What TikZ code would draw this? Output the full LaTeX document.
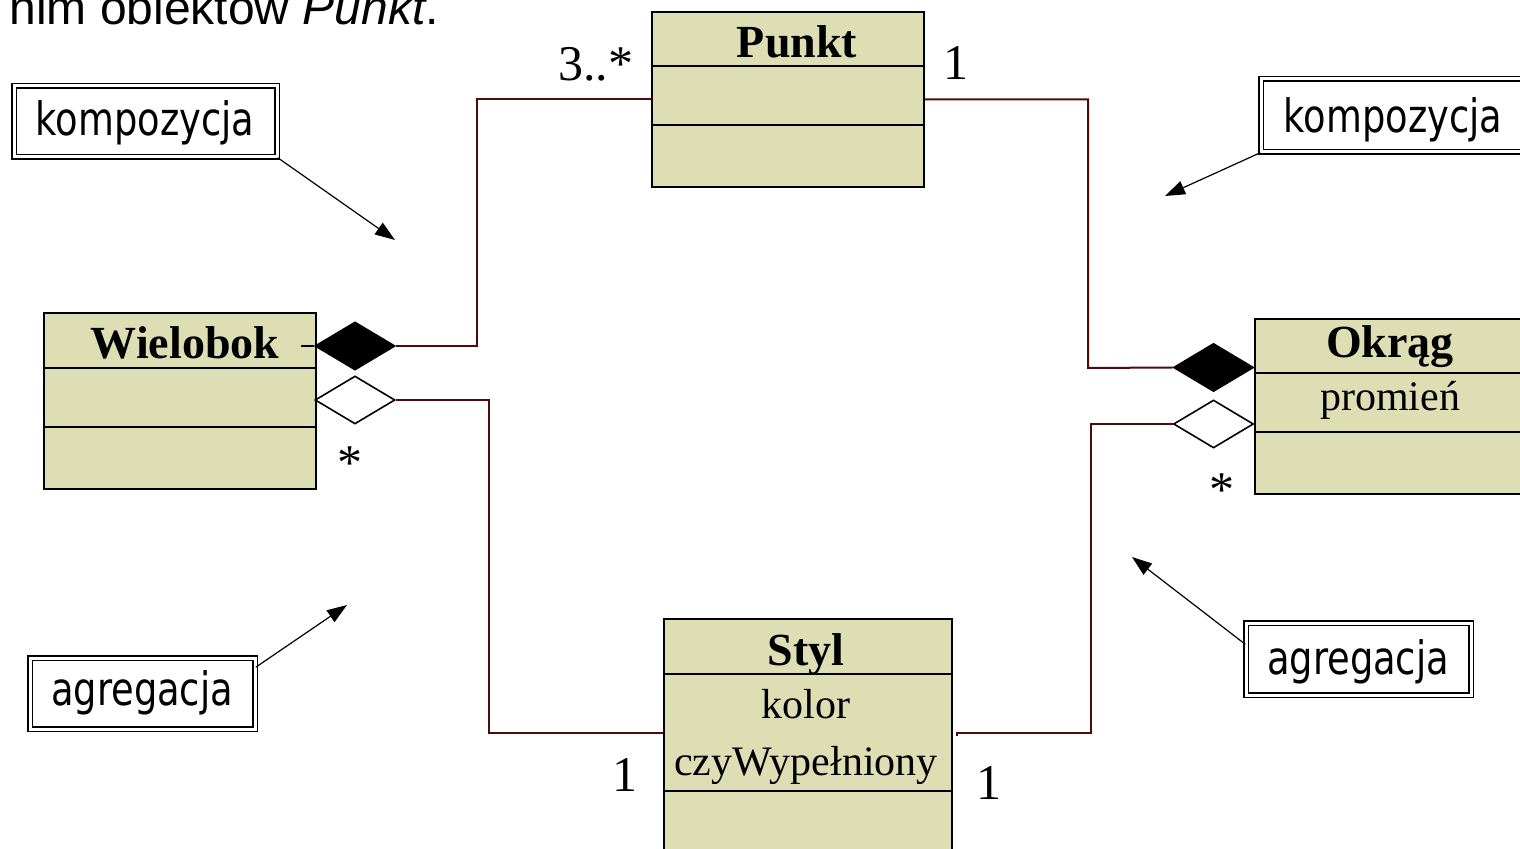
\documentclass[tikz,border=0pt]{standalone}
\usepackage{fontspec}
\setmainfont{Liberation Serif}
\newfontfamily\headfont{Liberation Sans}
\newfontfamily\notefont[FakeStretch=0.8]{DejaVu Sans}
\usetikzlibrary{shapes.geometric,arrows.meta,calc}

\definecolor{classfill}{RGB}{222,222,180}
\definecolor{linkred}{RGB}{80,10,10}

\begin{document}
\begin{tikzpicture}[x=0.5pt,y=-0.5pt,
  classbox/.style={draw=black, line width=1pt, fill=classfill, rectangle, anchor=north west, inner sep=0pt},
  divider/.style={draw=black, line width=1pt},
  ctitle/.style={font=\fontsize{23}{27}\selectfont\bfseries, anchor=base, inner sep=0pt},
  cattr/.style={font=\fontsize{21}{25}\selectfont, anchor=base, inner sep=0pt},
  mult/.style={font=\fontsize{25}{30}\selectfont, inner sep=0pt},
  fulldiamond/.style={diamond, draw=black, line width=0.8pt, fill=black, minimum width=40pt, minimum height=24pt, inner sep=0pt},
  hollowdiamond/.style={fulldiamond, fill=white},
  link/.style={draw=linkred, line width=1pt},
  callout/.style={draw=black, double=white, double distance=1.5pt, line width=0.75pt, rectangle, inner sep=0pt},
  callouttext/.style={font=\notefont\fontsize{23}{28}\selectfont, anchor=base, inner sep=0pt},
  pointer/.style={draw=black, line width=0.6pt, -{Triangle[length=10pt,width=7pt]}},
]
\useasboundingbox (0,0) rectangle (1520,849);

% heading line (only its lower part lies inside the page)
\node[font=\headfont\fontsize{24}{28}\selectfont, anchor=base west, inner sep=0pt] (head) at (9,25) {nim obiektów \textit{Punkt}.};

% classes
\node[classbox, minimum width=136pt, minimum height=87.5pt] (punkt) at (651,11) {};
\draw[divider] (punkt.west |- 0,66) -- (punkt.east |- 0,66);
\draw[divider] (punkt.west |- 0,125) -- (punkt.east |- 0,125);
\node[ctitle] (punktT) at (797,58) {Punkt};

\node[classbox, minimum width=136pt, minimum height=88pt] (wiel) at (43,312) {};
\draw[divider] (wiel.west |- 0,368) -- (wiel.east |- 0,368);
\draw[divider] (wiel.west |- 0,427) -- (wiel.east |- 0,427);
\node[ctitle] (wielT) at (185,359) {Wielobok};

\node[classbox, minimum width=140pt, minimum height=87.5pt] (okrag) at (1254,318) {};
\draw[divider] (okrag.west |- 0,373) -- (okrag.east |- 0,373);
\draw[divider] (okrag.west |- 0,432) -- (okrag.east |- 0,432);
\node[ctitle] (okragT) at (1390,358) {Okrąg};
\node[cattr] (okragA) at (1390,411) {promień};

\node[classbox, minimum width=144pt, minimum height=125pt] (styl) at (663,618) {};
\draw[divider] (styl.west |- 0,674) -- (styl.east |- 0,674);
\draw[divider] (styl.west |- 0,791) -- (styl.east |- 0,791);
\node[ctitle] (stylT) at (806,665) {Styl};
\node[cattr] (stylA) at (806,718) {kolor};
\node[cattr] (stylB) at (806,775) {czyWypełniony};

% aggregation / composition ends
\node[fulldiamond] (dW1) at (355,346) {};
\node[hollowdiamond] (dW2) at (355,400) {};
\node[fulldiamond] (dO1) at (1213.5,367.5) {};
\node[hollowdiamond] (dO2) at (1213.5,424) {};

% connectors
\draw[line width=1pt] (dW1.west) -- ++(-13,0);
\draw[link] (dW1.east) -- (477,346) |- (punkt.west);
\draw[link] (dW2.east) -- (489,400) |- ($(styl.north west)+(0,115)$);
\draw[link] (punkt.east) -| (1088,368) -- (dO1.west);
\draw[link] (dO2.west) -- (1091,424) |- ($(styl.north east)+(4,115)$) -- ++(0,3);

% multiplicities
\node[mult, anchor=base west] (m1) at (558,81) {3..*};
\node[mult, anchor=base west] (m2) at (943,80) {1};
\node[mult, anchor=base west] (m3) at (612,791) {1};
\node[mult, anchor=base west] (m4) at (976,799) {1};
\node[mult, anchor=base] (m5) at (350,480) {*};
\node[mult, anchor=base] (m6) at (1222,507) {*};

% notes with pointers
\node[callout, minimum width=131.5pt, minimum height=35.5pt] (k1) at (145.5,121.5) {};
\node[callouttext] (k1T) at (145,136) {kompozycja};
\node[callout, minimum width=132pt, minimum height=36.5pt] (k2) at (1393,115.5) {};
\node[callouttext] (k2T) at (1393,133) {kompozycja};
\node[callout, minimum width=112.5pt, minimum height=35.5pt] (a1) at (142.5,693.5) {};
\node[callouttext] (a1T) at (142,705) {agregacja};
\node[callout, minimum width=112.5pt, minimum height=36pt] (a2) at (1358.5,659) {};
\node[callouttext] (a2T) at (1358,674) {agregacja};

\coordinate (k1E) at (395,240);
\coordinate (k2E) at (1165,196);
\coordinate (a1E) at (347,605);
\coordinate (a2E) at (1132,557);
\draw[pointer] (k1.south east) -- (k1E);
\draw[pointer] (k2.south west) -- (k2E);
\draw[pointer] ($(a1.north east)+(0,10)$) -- (a1E);
\draw[pointer] ($(a2.north west)+(0,22)$) -- (a2E);
\end{tikzpicture}
\end{document}
